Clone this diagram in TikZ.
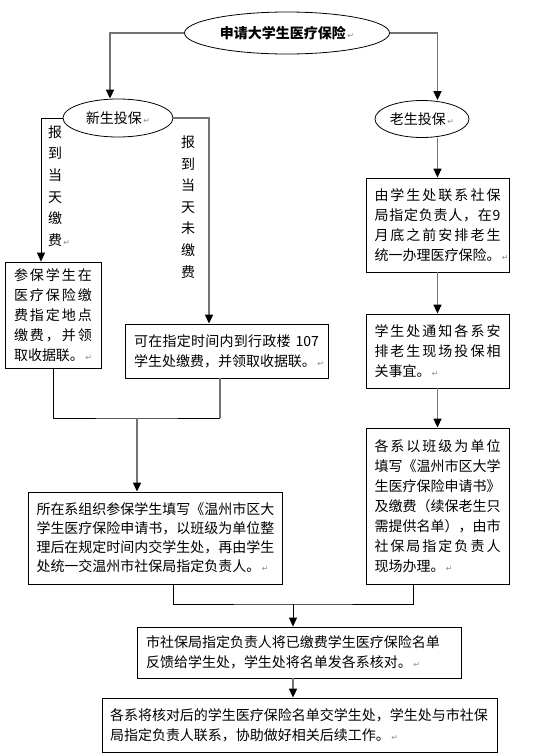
\documentclass[tikz,border=0pt]{standalone}
\usepackage{fontspec}
\setmainfont{Noto Sans CJK SC}
\newfontfamily\markfont{DejaVu Sans}
\usetikzlibrary{arrows.meta,shapes.geometric}
% paragraph mark and spread-out lines
\newcommand{\pmark}{{\markfont\fontsize{8}{8}\selectfont\color{black!45}\,↵}}
\newcommand{\jline}[2][126pt]{\makebox[#1][s]{\spreadfirst#2\relax}}
\def\spreadfirst#1{{#1}\spreadrest}
\def\spreadrest#1{\ifx\relax#1\else\hfil{#1}\expandafter\spreadrest\fi}

\begin{document}
\begin{tikzpicture}[x=1pt,y=-1pt,
    box/.style={draw,line width=0.8pt,inner xsep=8pt,inner ysep=0pt,align=left,
        font=\fontsize{14}{20}\selectfont},
    oval/.style={draw,ellipse,line width=0.8pt,inner sep=0pt,
        font=\fontsize{14}{16}\selectfont},
    vlabel/.style={align=center,inner sep=0pt,font=\fontsize{14}{21.6}\selectfont},
    linek/.style={draw=black,line width=0.8pt},
    lineg/.style={draw=black!55,line width=1.6pt},
    arrowto/.style={-{Triangle[length=9pt,width=8pt,color=black]}}]
    \fill[white] (0,0) rectangle (537,756);
    \useasboundingbox (0,0) rectangle (537,756);
    %
    \coordinate (xnew)   at (110,0);
    \coordinate (xpaid)  at (41,0);
    \coordinate (xunp)   at (209,0);
    \coordinate (xunpb)  at (220,0);
    \coordinate (xgath)  at (173,0);
    \coordinate (xoldc)  at (413,0);
    \coordinate (joinL)  at (137,418);
    \coordinate (joinR)  at (293,604);
    %
    \node[oval,minimum width=205,minimum height=42] (apply) at (287,33)
        {{\bfseries 申请大学生医疗保险}\pmark};
    \node[oval,minimum width=110,minimum height=38] (newst) at (118,118) {新生投保\pmark};
    \node[oval,minimum width=94,minimum height=37] (oldst) at (422,119) {老生投保\pmark};
    %
    \node[vlabel] (paidlbl) at (55,186) {报\\到\\当\\天\\缴\\费\rlap{\pmark}};
    \node[vlabel] (unpaidlbl) at (188,207) {报\\到\\当\\天\\未\\缴\\费};
    %
    \node[box,minimum width=96,minimum height=106,text width=78] (newpaid) at (53,315)
        {\jline[78pt]{参保学生在}\\\jline[78pt]{医疗保险缴}\\\jline[78pt]{费指定地点}\\
         \jline[78pt]{缴费，并领}\\取收据联。\pmark};
    \node[box,minimum width=203,minimum height=54,text width=185] (newunpaid) at (226.5,351)
        {\jline[185pt]{可在指定时间内到行政楼{~107}}\\学生处缴费，并领取收据联。\pmark};
    \node[box,minimum width=253,minimum height=92,text width=238,
        font=\fontsize{14}{19}\selectfont] (gather) at (155.5,538)
        {所在系组织参保学生填写《温州市区大\\学生医疗保险申请书，以班级为单位整\\
         理后在规定时间内交学生处，再由学生\\处统一交温州市社保局指定负责人。\pmark};
    %
    \node[box,minimum width=143,minimum height=94,text width=126] (oldA) at (437.5,225)
        {\jline{由学生处联系社保}\\\jline{局指定负责人，在9}\\\jline{月底之前安排老生}\\
         统一办理医疗保险。\pmark};
    \node[box,minimum width=143,minimum height=74,text width=126] (oldB) at (437.5,351)
        {\jline{学生处通知各系安}\\\jline{排老生现场投保相}\\关事宜。\pmark};
    \node[box,minimum width=143,minimum height=156,text width=126] (oldC) at (437.5,506)
        {\jline{各系以班级为单位}\\\jline{填写《温州市区大学}\\\jline{生医疗保险申请书》}\\
         \jline{及缴费（续保老生只}\\\jline{需提供名单），由市}\\\jline{社保局指定负责人}\\
         现场办理。\pmark};
    %
    \node[box,minimum width=324,minimum height=51,text width=306] (feedback) at (299,652.5)
        {市社保局指定负责人将已缴费学生医疗保险名单\\反馈给学生处，学生处将名单发各系核对。\pmark};
    \node[box,minimum width=395,minimum height=54,text width=379] (follow) at (299.5,725)
        {各系将核对后的学生医疗保险名单交学生处，学生处与市社保\\局指定负责人联系，协助做好相关后续工作。\pmark};
    %
    \draw[lineg,arrowto] (apply.west) -| (xnew |- newst.north);
    \draw[lineg,arrowto] (apply.east) -| (oldA.north |- oldst.north);
    \draw[linek,arrowto] (newst.west) -| (xpaid |- newpaid.north);
    \draw[lineg,arrowto] (newst.east) -| (xunp |- newunpaid.north);
    \draw[linek] (newpaid.south) |- (joinL) -| (xunpb |- joinL);
    \draw[lineg] (xunpb |- newunpaid.south) -- (xunpb |- joinL);
    \draw[lineg,arrowto] (joinL) -- (joinL |- gather.north);
    \draw[lineg,arrowto] (oldA.north |- oldst.south) -- (oldA.north);
    \draw[lineg,arrowto] (oldA.south) -- (oldB.north);
    \draw[lineg,arrowto] (oldB.south) -- (oldC.north);
    \draw[linek] (xgath |- gather.south) |- (joinR) -| (xoldc |- oldC.south);
    \draw[linek,arrowto] (joinR) -- (joinR |- feedback.north);
    \draw[lineg,arrowto] (joinR |- feedback.south) -- (joinR |- follow.north);
    %
\end{tikzpicture}
\end{document}
